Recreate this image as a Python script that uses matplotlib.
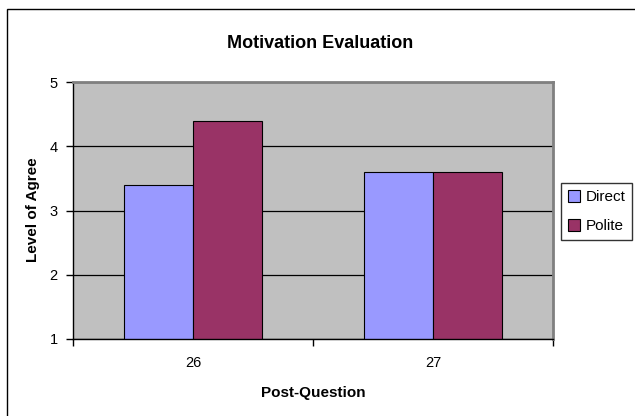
import matplotlib
matplotlib.use("Agg")
import matplotlib.pyplot as plt
from matplotlib.patches import Rectangle
import numpy as np

plt.rcParams['font.family'] = ['Liberation Sans', 'DejaVu Sans']

questions = ["26", "27"]
direct = [3.4, 3.6]
polite = [4.4, 3.6]
series_names = ["Direct", "Polite"]
colors = ["#9999FF", "#993366"]
y_ticks = [1, 2, 3, 4, 5]

W, H = 635, 416
fig = plt.figure(figsize=(W / 100, H / 100), dpi=100)
fig.patch.set_facecolor("white")

# chart frame
fig.add_artist(Rectangle((7 / W, -0.05), 2.0, 1 - 9 / H + 0.05,
                         transform=fig.transFigure, fill=False,
                         edgecolor="black", linewidth=1.0))

ax = fig.add_axes([73 / W, (H - 339) / H, (553 - 73) / W, (339 - 82) / H])
ax.set_facecolor("#C0C0C0")

x = np.arange(len(questions))
bw = 0.286
ax.bar(x - bw / 2, direct, bw, bottom=0, color=colors[0], edgecolor="black",
       linewidth=0.8, label=series_names[0], zorder=3)
ax.bar(x + bw / 2, polite, bw, bottom=0, color=colors[1], edgecolor="black",
       linewidth=0.8, label=series_names[1], zorder=3)

ax.set_ylim(1, 5)
ax.set_xlim(-0.5, len(questions) - 0.5)
ax.set_yticks(y_ticks)
ax.set_yticklabels([str(t) for t in y_ticks], fontsize=10.5)
ax.yaxis.grid(True, color="black", linewidth=0.9, zorder=1)
ax.set_axisbelow(True)

# category boundaries carry the tick marks, labels sit at the centers
ax.set_xticks(np.arange(-0.5, len(questions), 1.0))
ax.set_xticklabels([])
ax.set_xticks(x, minor=True)
ax.set_xticklabels(questions, minor=True, fontsize=10.5)
ax.tick_params(axis="x", which="minor", length=0, pad=12)
ax.tick_params(axis="x", which="major", length=5, width=1, direction="out")
ax.tick_params(axis="y", length=5, width=1, direction="out", pad=6)

for side in ["left", "bottom"]:
    ax.spines[side].set_color("black")
    ax.spines[side].set_linewidth(1.0)
    ax.spines[side].set_zorder(5)
for side in ["top", "right"]:
    ax.spines[side].set_color("#808080")
    ax.spines[side].set_linewidth(2.0)
    ax.spines[side].set_zorder(5)

fig.text(320 / W, 1 - 43 / H, "Motivation Evaluation", ha="center",
         va="center", fontsize=13, fontweight="bold")
fig.text(313 / W, 1 - 393 / H, "Post-Question", ha="center", va="center",
         fontsize=11, fontweight="bold")
fig.text(33 / W, 1 - 210 / H, "Level of Agree", ha="center", va="center",
         rotation=90, fontsize=11, fontweight="bold")

leg = fig.legend(loc="upper left", bbox_to_anchor=(561 / W, 1 - 183 / H),
                 bbox_transform=fig.transFigure, fontsize=11,
                 frameon=True, fancybox=False, edgecolor="black",
                 handlelength=0.8, handleheight=0.8, handletextpad=0.35,
                 borderpad=0.45, labelspacing=1.0, borderaxespad=0)
leg.get_frame().set_linewidth(1.0)

fig.savefig("out.png", dpi=100, facecolor="white")
